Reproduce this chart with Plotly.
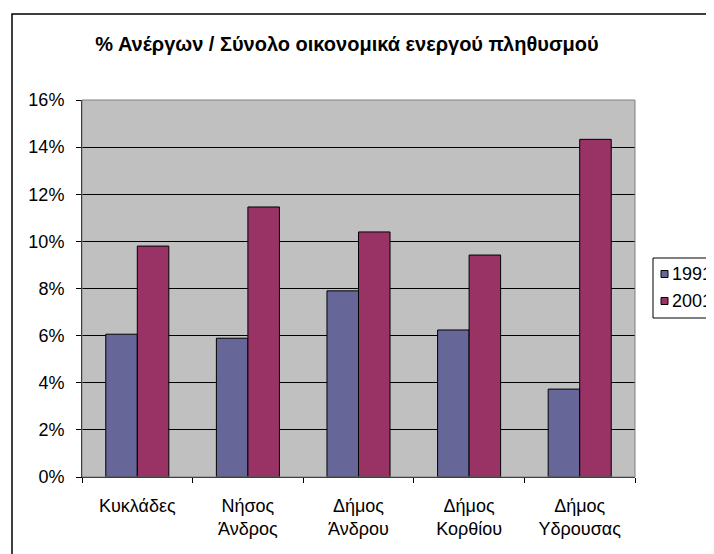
import plotly.graph_objects as go

categories = ["Κυκλάδες", "Νήσος<br>Άνδρος", "Δήμος<br>Άνδρου", "Δήμος<br>Κορθίου", "Δήμος<br>Υδρουσας"]
series_names = ["1991", "2001"]
values_1991 = [0.0606, 0.0589, 0.0790, 0.0624, 0.0373]
values_2001 = [0.0980, 0.1146, 0.1040, 0.0942, 0.1433]
tick_vals = [0, 0.02, 0.04, 0.06, 0.08, 0.10, 0.12, 0.14, 0.16]
tick_text = ["0%", "2%", "4%", "6%", "8%", "10%", "12%", "14%", "16%"]
title_text = "% Ανέργων / Σύνολο οικονομικά ενεργού πληθυσμού"
colors = ["#666699", "#993366"]

OFF = 8  # browser body margin
W, H = 714 - OFF, 554 - OFF
PL, PR, PT, PB = 82, 635, 100, 477  # plot area in page pixels
L, T = PL - OFF, PT - OFF
R = W - (PR - OFF)
B = H - (PB - OFF)
pw, ph = PR - PL, PB - PT

def px_x(x):
    return (x - PL) / pw

def px_y(y):
    return (PB - y) / ph

font = "Liberation Sans, Arial, sans-serif"

fig = go.Figure()
for name, vals, col in zip(series_names, [values_1991, values_2001], colors):
    fig.add_trace(go.Bar(x=categories, y=vals, name=name, showlegend=False,
                         marker=dict(color=col, line=dict(color="black", width=1))))

shapes = [
    dict(type="rect", xref="paper", yref="paper", x0=0, x1=1, y0=0, y1=1,
         line=dict(color="#808080", width=1), fillcolor="rgba(0,0,0,0)", layer="above"),
    dict(type="rect", xref="paper", yref="paper",
         x0=px_x(12), x1=px_x(740), y0=px_y(580), y1=px_y(14),
         line=dict(color="black", width=1.5), fillcolor="rgba(0,0,0,0)"),
    # legend box
    dict(type="rect", xref="paper", yref="paper",
         x0=px_x(653), x1=px_x(740), y0=px_y(318), y1=px_y(258),
         line=dict(color="black", width=1), fillcolor="white"),
]
annotations = []
legend_rows = [274, 301]
for name, col, yc in zip(series_names, colors, legend_rows):
    shapes.append(dict(type="rect", xref="paper", yref="paper",
                       x0=px_x(661), x1=px_x(668), y0=px_y(yc + 3.5), y1=px_y(yc - 3.5),
                       line=dict(color="black", width=1), fillcolor=col))
    annotations.append(dict(text=name, xref="paper", yref="paper",
                            x=px_x(670), y=px_y(yc), xanchor="left", yanchor="middle",
                            showarrow=False, font=dict(family=font, size=18, color="black")))

fig.update_layout(
    width=W, height=H,
    margin=dict(l=L, r=R, t=T, b=B, autoexpand=False),
    paper_bgcolor="white",
    plot_bgcolor="#C0C0C0",
    barmode="group",
    bargap=0.43,
    bargroupgap=0,
    font=dict(family=font, size=18, color="black"),
    title=dict(text="<b>" + title_text + "</b>", x=px_x(347), xref="paper", xanchor="center",
               y=1 - (44 - OFF) / H, yref="container", yanchor="middle",
               font=dict(family=font, size=20, color="black")),
    showlegend=False,
    xaxis=dict(showline=True, linecolor="black", linewidth=1,
               ticks="outside", ticklen=5, tickcolor="black", tickson="boundaries",
               showgrid=False, tickfont=dict(size=18), ticklabelstandoff=12),
    yaxis=dict(range=[0, 0.16], tickvals=tick_vals, ticktext=tick_text,
               showline=True, linecolor="black", linewidth=1,
               ticks="outside", ticklen=5, tickcolor="black",
               showgrid=True, gridcolor="black", gridwidth=1,
               zeroline=False, tickfont=dict(size=18), ticklabelstandoff=8),
    shapes=shapes,
    annotations=annotations,
)

fig.write_html("out.html")
